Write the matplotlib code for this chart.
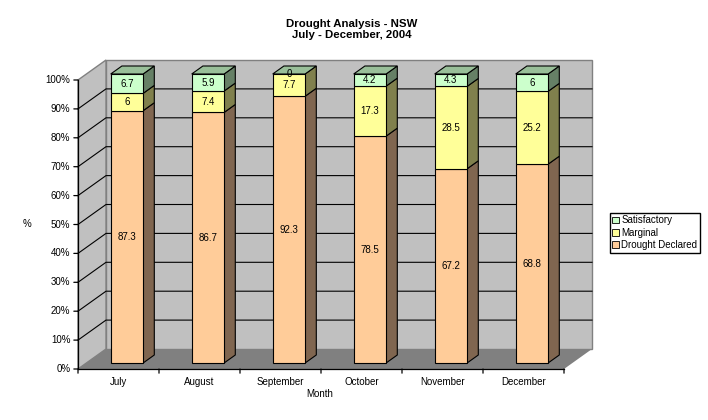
import matplotlib.pyplot as plt
from matplotlib.patches import Patch
import numpy as np

plt.rcParams['font.family'] = ['Liberation Sans', 'DejaVu Sans']

months = ["July", "August", "September", "October", "November", "December"]
drought = [87.3, 86.7, 92.3, 78.5, 67.2, 68.8]
marginal = [6, 7.4, 7.7, 17.3, 28.5, 25.2]
satisfactory = [6.7, 5.9, 0, 4.2, 4.3, 6]
series_names = ["Drought Declared", "Marginal", "Satisfactory"]
y_ticks = np.arange(0, 101, 10)

# colours: front, side, top
FACE = ["#FFCC99", "#FFFF99", "#CCFFCC"]
SIDE = ["#806650", "#80804D", "#668066"]
TOP = ["#BF9973", "#BFBF73", "#99BF99"]
WALL = "#C0C0C0"
FLOOR = "#808080"

# oblique projection: category units on x, percent on y
DX = 28 / 81.0
DY = 20 / 2.89
D0, D1 = 0.3, 0.7  # bar depth range
BW0, BW1 = 0.3, 0.7  # bar width within category


def proj(c, v, d):
    return c + d * DX, v + d * DY


def quad(ax, pts, fc, ec="black", lw=0.8, z=1):
    xs, ys = zip(*[proj(*p) for p in pts])
    ax.fill(xs, ys, facecolor=fc, edgecolor=ec, linewidth=lw, zorder=z)


fig = plt.figure(figsize=(7.08, 4.2), dpi=100)
ax = fig.add_axes([0, 0, 1, 1])
ax.set_xlim(-78 / 81.0, (708 - 78) / 81.0)
ax.set_ylim((369 - 420) / 2.89, 369 / 2.89)
ax.axis("off")

n = len(months)

# walls and floor
quad(ax, [(0, 0, 1), (n, 0, 1), (n, 100, 1), (0, 100, 1)], WALL, ec="#808080", lw=1)
quad(ax, [(0, 0, 0), (0, 0, 1), (0, 100, 1), (0, 100, 0)], WALL, ec="#808080", lw=1)
quad(ax, [(0, 0, 0), (n, 0, 0), (n, 0, 1), (0, 0, 1)], FLOOR, ec="none", lw=0)

# gridlines on back wall and side wall
for v in y_ticks[1:-1]:
    x0, y0 = proj(0, v, 0)
    x1, y1 = proj(0, v, 1)
    x2, y2 = proj(n, v, 1)
    ax.plot([x0, x1, x2], [y0, y1, y2], color="black", lw=0.8, zorder=2)

# front axes and ticks
ax.plot([0, 0], [0, 100], color="black", lw=0.9, zorder=3)
ax.plot([0, n], [0, 0], color="black", lw=0.9, zorder=3)
for v in y_ticks:
    ax.annotate("", xy=(0, v), xytext=(-3, 0), textcoords="offset points",
                arrowprops=dict(arrowstyle="-", lw=0.9, color="black",
                                shrinkA=0, shrinkB=0))
    ax.annotate(f"{v}%", xy=(0, v), xytext=(-5.5, 0), textcoords="offset points",
                ha="right", va="center", fontsize=7)
for i in range(n + 1):
    ax.annotate("", xy=(i, 0), xytext=(0, -3), textcoords="offset points",
                arrowprops=dict(arrowstyle="-", lw=0.9, color="black",
                                shrinkA=0, shrinkB=0))
for i, m in enumerate(months):
    ax.annotate(m, xy=(i + 0.5, 0), xytext=(0, -6), textcoords="offset points",
                ha="center", va="top", fontsize=7)

# stacked 3D bars
data = [drought, marginal, satisfactory]
for i in range(n):
    base = 0
    cl, cr = i + BW0, i + BW1
    for s, vals in enumerate(data):
        h = vals[i]
        top = base + h
        if h > 0:
            quad(ax, [(cr, base, D0), (cr, base, D1), (cr, top, D1), (cr, top, D0)],
                 SIDE[s], z=4)
            quad(ax, [(cl, base, D0), (cr, base, D0), (cr, top, D0), (cl, top, D0)],
                 FACE[s], z=5)
        if s == len(data) - 1:
            quad(ax, [(cl, top, D0), (cr, top, D0), (cr, top, D1), (cl, top, D1)],
                 TOP[s], z=5)
        lx, ly = proj(i + 0.5, base + h / 2, D0)
        ax.text(lx, ly, f"{h:g}", ha="center", va="center", fontsize=7, zorder=6)
        base = top

fig.text(352 / 708, 1 - 29.5 / 420, "Drought Analysis - NSW\nJuly - December, 2004",
         ha="center", va="center", fontsize=8.2, fontweight="bold", linespacing=1.2)
fig.text(27 / 708, 1 - 224 / 420, "%", ha="center", va="center", fontsize=7)
fig.text(320 / 708, 1 - 394 / 420, "Month", ha="center", va="center", fontsize=7)

handles = [Patch(facecolor=FACE[s], edgecolor="black", linewidth=0.6)
           for s in range(3)][::-1]
fig.legend(handles, series_names[::-1], loc="upper left",
           bbox_to_anchor=(610 / 708, 1 - 213 / 420), fontsize=7,
           frameon=True, fancybox=False, edgecolor="black", framealpha=1,
           handlelength=0.7, handleheight=0.7, handletextpad=0.2,
           borderpad=0.25, labelspacing=0.25, borderaxespad=0)

fig.savefig("out.png", dpi=100)
